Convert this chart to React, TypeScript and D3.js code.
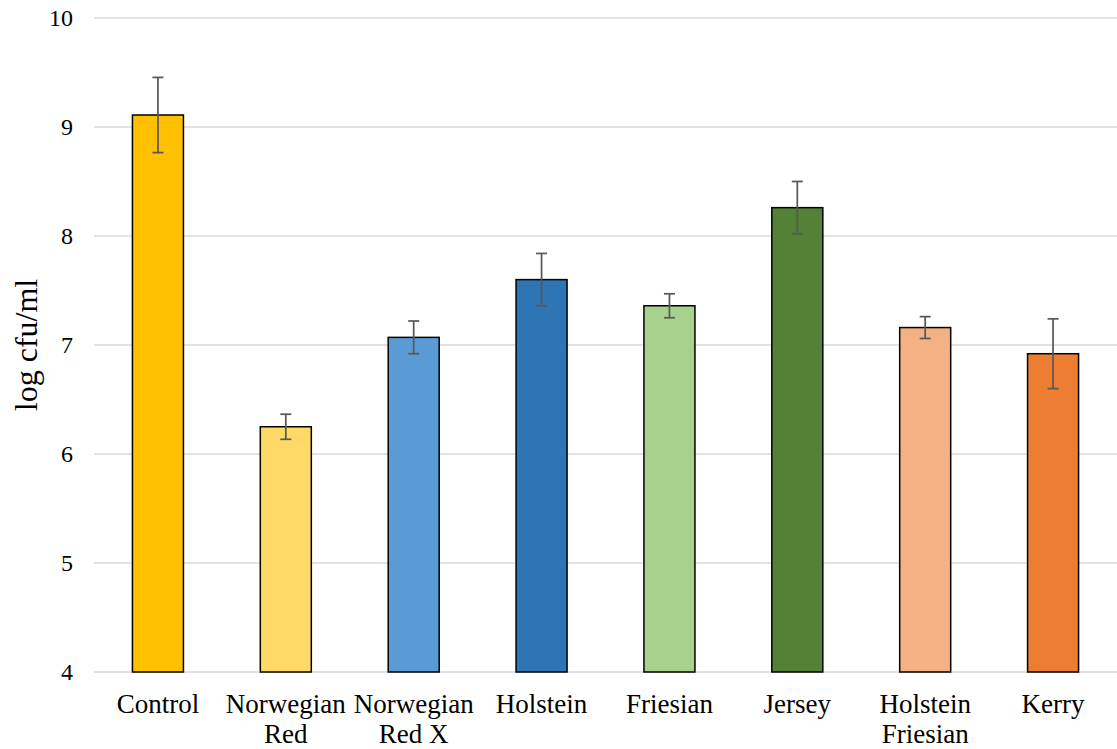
import React from "react";
import * as d3 from "d3";

const categories: string[][] = [
  ["Control"],
  ["Norwegian", "Red"],
  ["Norwegian", "Red X"],
  ["Holstein"],
  ["Friesian"],
  ["Jersey"],
  ["Holstein", "Friesian"],
  ["Kerry"],
];
const values = [9.11, 6.25, 7.07, 7.6, 7.36, 8.26, 7.16, 6.92];
const errors = [0.345, 0.115, 0.15, 0.24, 0.11, 0.24, 0.1, 0.32];
const colors = ["#FFC000", "#FFD966", "#5B9BD5", "#2E75B6", "#A9D18E", "#538135", "#F4B183", "#ED7D31"];
const yTicks = [4, 5, 6, 7, 8, 9, 10];
const yTitle = "log cfu/ml";

export default function App() {
  const W = 1117, H = 749;
  const left = 94, right = 1117, top = 18, bottom = 672;
  const keys = categories.map((_, i) => String(i));
  const x = d3.scaleBand().domain(keys).range([left, right]);
  const y = d3.scaleLinear().domain([4, 10]).range([bottom, top]);
  const font = "'Liberation Serif', 'Times New Roman', serif";
  const bw = 51;
  return (
    <svg width={W} height={H} style={{ position: "absolute", left: 0, top: 0, background: "#fff" }}>
      {yTicks.map((t) => (
        <g key={t}>
          <line x1={left} x2={right} y1={y(t)} y2={y(t)} stroke="#D9D9D9" strokeWidth={1.5} />
          <text x={73} y={y(t)} dy="0.35em" textAnchor="end" fontFamily={font} fontSize={24} fill="#000">
            {t}
          </text>
        </g>
      ))}
      {values.map((v, i) => {
        const cx = (x(String(i)) as number) + x.bandwidth() / 2;
        return (
          <g key={i}>
            <rect x={cx - bw / 2} y={y(v)} width={bw} height={y(4) - y(v)} fill={colors[i]} stroke="#000" strokeWidth={1.5} />
            <line x1={cx} x2={cx} y1={y(v + errors[i])} y2={y(v - errors[i])} stroke="#595959" strokeWidth={1.75} />
            <line x1={cx - 5.5} x2={cx + 5.5} y1={y(v + errors[i])} y2={y(v + errors[i])} stroke="#595959" strokeWidth={1.75} />
            <line x1={cx - 5.5} x2={cx + 5.5} y1={y(v - errors[i])} y2={y(v - errors[i])} stroke="#595959" strokeWidth={1.75} />
            <text x={cx} y={713} textAnchor="middle" fontFamily={font} fontSize={27} fill="#000">
              {categories[i].map((line, j) => (
                <tspan key={j} x={cx} dy={j === 0 ? 0 : 30}>
                  {line}
                </tspan>
              ))}
            </text>
          </g>
        );
      })}
      <text
        transform={`translate(37, 345) rotate(-90)`}
        textAnchor="middle"
        fontFamily={font}
        fontSize={32}
        fill="#000"
      >
        {yTitle}
      </text>
    </svg>
  );
}
